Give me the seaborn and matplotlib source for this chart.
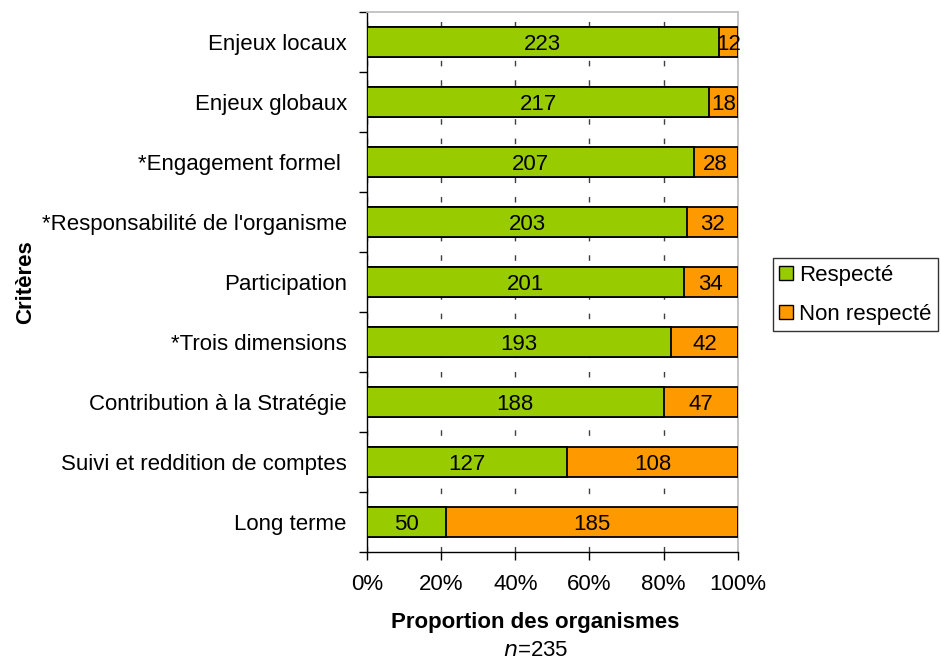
import matplotlib
matplotlib.use("Agg")
import matplotlib.pyplot as plt
import seaborn as sns
import pandas as pd
from matplotlib.patches import Patch
from matplotlib.ticker import PercentFormatter

# data
criteres = ["Enjeux locaux", "Enjeux globaux", "*Engagement formel ",
            "*Responsabilité de l'organisme", "Participation", "*Trois dimensions",
            "Contribution à la Stratégie", "Suivi et reddition de comptes", "Long terme"]
respecte = [223, 217, 207, 203, 201, 193, 188, 127, 50]
non_respecte = [12, 18, 28, 32, 34, 42, 47, 108, 185]

green = "#99cc00"
orange = "#ff9900"

df = pd.DataFrame({"Critère": criteres, "Respecté": respecte, "Non respecté": non_respecte})
df["n"] = df["Respecté"] + df["Non respecté"]
df["p_resp"] = df["Respecté"] / df["n"] * 100
df["p_tot"] = 100.0

sns.set_style("white")
plt.rcParams["font.family"] = ["Liberation Sans", "DejaVu Sans"]
for k in ["text.color", "axes.labelcolor", "xtick.color", "ytick.color"]:
    plt.rcParams[k] = "black"

fs = 16

fig = plt.figure(figsize=(9.41, 6.64), dpi=100)
ax = fig.add_axes([0.39, 0.169, 0.394, 0.813])

sns.barplot(data=df, y="Critère", x="p_tot", color=orange, orient="h", width=0.5,
            edgecolor="black", linewidth=1.3, saturation=1, ax=ax, zorder=3)
sns.barplot(data=df, y="Critère", x="p_resp", color=green, orient="h", width=0.5,
            edgecolor="black", linewidth=1.3, saturation=1, ax=ax, zorder=3)

# value labels
for i, row in df.iterrows():
    ax.text(row["p_resp"] / 2, i, str(row["Respecté"]), ha="center",
            va="center_baseline", fontsize=fs, zorder=5)
    ax.text((row["p_resp"] + 100) / 2, i, str(row["Non respecté"]), ha="center",
            va="center_baseline", fontsize=fs, zorder=5)

ax.set_xlim(0, 100)
ax.set_ylim(len(criteres) - 0.5, -0.5)
ax.set_xticks([0, 20, 40, 60, 80, 100])
ax.xaxis.set_major_formatter(PercentFormatter(decimals=0))
ax.set_yticks(range(len(criteres)))
ax.set_yticks([i + 0.5 for i in range(-1, len(criteres))], minor=True)
ax.set_yticklabels(criteres)
ax.tick_params(axis="y", which="major", left=False, length=0, pad=14.5, labelsize=fs)
ax.tick_params(axis="y", which="minor", left=True, length=6, width=1,
               color="black", direction="out")
ax.tick_params(axis="x", bottom=True, length=6, width=1, color="black",
               direction="out", labelsize=fs, pad=10)

ax.grid(axis="x", color="#404040", linestyle=(0, (4, 10)), linewidth=1, zorder=0)
ax.set_axisbelow(True)
for s in ["top", "right"]:
    ax.spines[s].set_color("#c0c0c0")
    ax.spines[s].set_linewidth(1.3)
for s in ["left", "bottom"]:
    ax.spines[s].set_color("black")
    ax.spines[s].set_linewidth(1)

ax.set_xlabel("")
ax.set_ylabel("Critères", fontsize=fs, fontweight="bold")
ax.yaxis.set_label_coords(-0.893, 0.5)
fig.text(0.569, 0.063, "Proportion des organismes", ha="center", va="center",
         fontsize=fs, fontweight="bold")
fig.text(0.569, 0.021, r"$\it{n}$=235", ha="center", va="center", fontsize=fs)

handles = [Patch(facecolor=green, edgecolor="black", label="Respecté"),
           Patch(facecolor=orange, edgecolor="black", label="Non respecté")]
leg = fig.legend(handles=handles, loc="center left", bbox_to_anchor=(0.821, 0.556),
                 frameon=True, fancybox=False, fontsize=fs, handlelength=0.6,
                 handleheight=0.6, handletextpad=0.3, borderpad=0.3,
                 labelspacing=0.8, borderaxespad=0)
leg.get_frame().set_edgecolor("black")
leg.get_frame().set_linewidth(1)

fig.savefig("out.png", dpi=100)
